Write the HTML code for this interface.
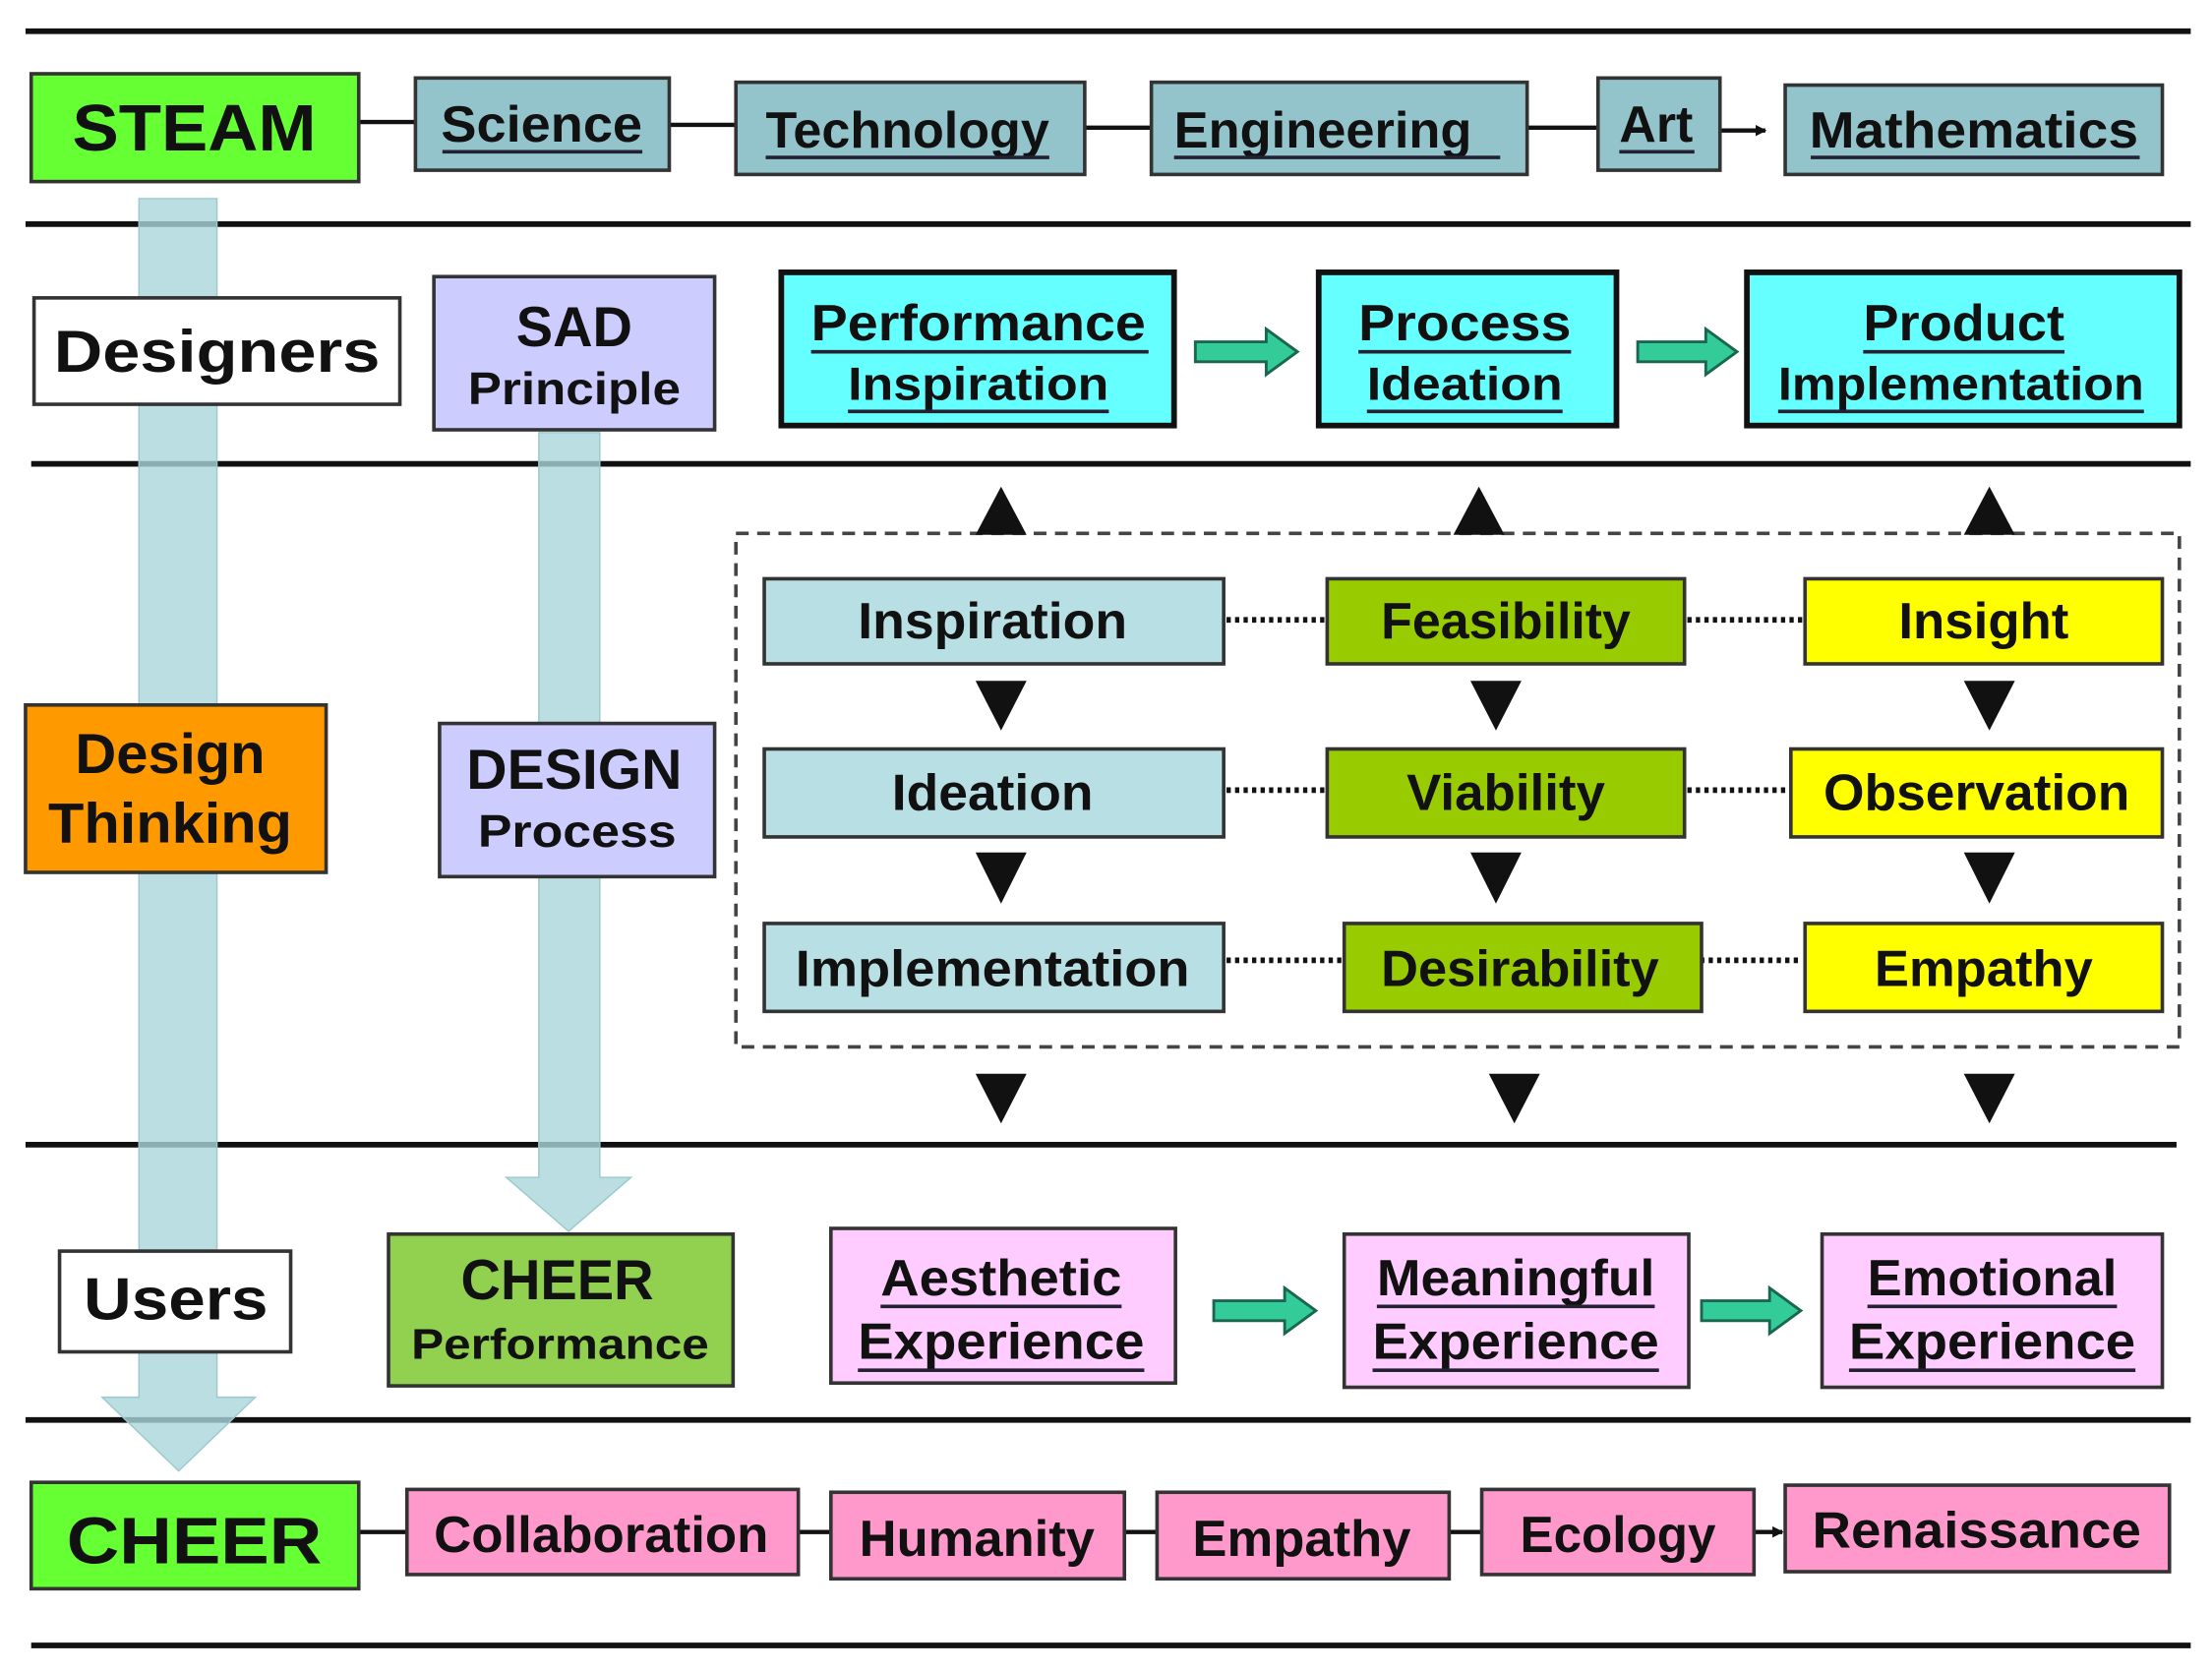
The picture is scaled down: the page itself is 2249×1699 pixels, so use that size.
<!DOCTYPE html>
<html><head><meta charset="utf-8"><style>
html,body{margin:0;padding:0;background:#fff;}
svg{display:block;}
text{font-family:"Liberation Sans",sans-serif;font-weight:bold;fill:#111;text-anchor:middle;}
</style></head><body>
<svg width="2249" height="1699" viewBox="0 0 1560 1178" preserveAspectRatio="none" xmlns="http://www.w3.org/2000/svg">
<defs>
<marker id="ah" markerWidth="8" markerHeight="8" refX="7" refY="4" orient="auto" markerUnits="userSpaceOnUse"><path d="M0,0 L8,4 L0,8 Z" fill="#111"/></marker>
</defs>
<!-- horizontal lines -->
<g stroke="#111" stroke-width="4">
<line x1="18" y1="22" x2="1545" y2="22"/>
<line x1="18" y1="158" x2="1545" y2="158"/>
<line x1="22" y1="327" x2="1545" y2="327"/>
<line x1="18" y1="807" x2="1535" y2="807"/>
<line x1="18" y1="1001" x2="1545" y2="1001"/>
<line x1="22" y1="1160" x2="1545" y2="1160"/>
</g>
<!-- big vertical arrows -->
<g fill="#a9d6da" fill-opacity="0.8" stroke="#9cc9cd" stroke-width="1">
<polygon points="98,140 153,140 153,985 180,985 126,1037 72,985 98,985"/>
<polygon points="380,305 423,305 423,830 445,830 401,868 357,830 380,830"/>
</g>
<!-- row1 connectors -->
<g stroke="#111" stroke-width="3">
<line x1="253" y1="86" x2="293" y2="86"/>
<line x1="472" y1="88" x2="519" y2="88"/>
<line x1="765" y1="90" x2="812" y2="90"/>
<line x1="1077" y1="90" x2="1127" y2="90"/>
<line x1="1213" y1="92" x2="1245" y2="92" marker-end="url(#ah)"/>
<line x1="253" y1="1080" x2="287" y2="1080"/>
<line x1="563" y1="1080" x2="586" y2="1080"/>
<line x1="793" y1="1080" x2="816" y2="1080"/>
<line x1="1022" y1="1080" x2="1045" y2="1080"/>
<line x1="1237" y1="1080" x2="1257" y2="1080" marker-end="url(#ah)"/>
</g>
<!-- row1 boxes -->
<g stroke="#333" stroke-width="2.5">
<rect x="22" y="52" width="231" height="76" fill="#66ff33"/>
<rect x="293" y="55" width="179" height="65" fill="#93c4cc"/>
<rect x="519" y="58" width="246" height="65" fill="#93c4cc"/>
<rect x="812" y="58" width="265" height="65" fill="#93c4cc"/>
<rect x="1127" y="55" width="86" height="65" fill="#93c4cc"/>
<rect x="1259" y="60" width="266" height="63" fill="#93c4cc"/>
</g>
<text x="137" y="106" font-size="46" textLength="172" lengthAdjust="spacingAndGlyphs">STEAM</text>
<text x="382" y="100" font-size="36" textLength="142" lengthAdjust="spacingAndGlyphs">Science</text>
<text x="640" y="104" font-size="36" textLength="200" lengthAdjust="spacingAndGlyphs">Technology</text>
<text x="933" y="104" font-size="36" textLength="210" lengthAdjust="spacingAndGlyphs">Engineering</text>
<text x="1168" y="100" font-size="36" textLength="52" lengthAdjust="spacingAndGlyphs">Art</text>
<text x="1392" y="104" font-size="36" textLength="232" lengthAdjust="spacingAndGlyphs">Mathematics</text>
<g stroke="#223" stroke-width="2.5">
<line x1="312" y1="107" x2="453" y2="107"/>
<line x1="540" y1="111" x2="740" y2="111"/>
<line x1="828" y1="111" x2="1058" y2="111"/>
<line x1="1142" y1="107" x2="1195" y2="107"/>
<line x1="1277" y1="111" x2="1509" y2="111"/>
</g>
<!-- row2 -->
<rect x="24" y="210" width="258" height="75" fill="#fff" stroke="#333" stroke-width="2.5"/>
<rect x="306" y="195" width="198" height="108" fill="#ccccff" stroke="#333" stroke-width="2.5"/>
<g fill="#66ffff" stroke="#111" stroke-width="4">
<rect x="551" y="192" width="277" height="108"/>
<rect x="930" y="192" width="210" height="108"/>
<rect x="1232" y="192" width="305" height="108"/>
</g>
<text x="153" y="262" font-size="42" textLength="230" lengthAdjust="spacingAndGlyphs">Designers</text>
<text x="405" y="244" font-size="40" textLength="82" lengthAdjust="spacingAndGlyphs">SAD</text>
<text x="405" y="285" font-size="32" textLength="150" lengthAdjust="spacingAndGlyphs">Principle</text>
<text x="690" y="240" font-size="36" textLength="236" lengthAdjust="spacingAndGlyphs">Performance</text>
<text x="690" y="282" font-size="33" textLength="184" lengthAdjust="spacingAndGlyphs">Inspiration</text>
<text x="1033" y="240" font-size="36" textLength="150" lengthAdjust="spacingAndGlyphs">Process</text>
<text x="1033" y="282" font-size="33" textLength="138" lengthAdjust="spacingAndGlyphs">Ideation</text>
<text x="1385" y="240" font-size="36" textLength="142" lengthAdjust="spacingAndGlyphs">Product</text>
<text x="1383" y="282" font-size="33" textLength="258" lengthAdjust="spacingAndGlyphs">Implementation</text>
<g stroke="#223" stroke-width="2.5">
<line x1="572" y1="248" x2="810" y2="248"/>
<line x1="598" y1="290" x2="782" y2="290"/>
<line x1="958" y1="248" x2="1108" y2="248"/>
<line x1="964" y1="290" x2="1102" y2="290"/>
<line x1="1314" y1="248" x2="1456" y2="248"/>
<line x1="1254" y1="290" x2="1512" y2="290"/>
</g>
<g fill="#33cc99" stroke="#1a6650" stroke-width="2">
<polygon points="843,241 893,241 893,232 915,248 893,264 893,255 843,255"/>
<polygon points="1155,241 1203,241 1203,232 1225,248 1203,264 1203,255 1155,255"/>
<polygon points="856,917 906,917 906,908 928,924 906,940 906,931 856,931"/>
<polygon points="1200,917 1248,917 1248,908 1270,924 1248,940 1248,931 1200,931"/>
</g>
<!-- row3 -->
<rect x="18" y="497" width="212" height="118" fill="#ff9900" stroke="#333" stroke-width="2.5"/>
<rect x="310" y="510" width="194" height="108" fill="#ccccff" stroke="#333" stroke-width="2.5"/>
<text x="120" y="545" font-size="40" textLength="134" lengthAdjust="spacingAndGlyphs">Design</text>
<text x="120" y="594" font-size="40" textLength="172" lengthAdjust="spacingAndGlyphs">Thinking</text>
<text x="405" y="556" font-size="40" textLength="152" lengthAdjust="spacingAndGlyphs">DESIGN</text>
<text x="407" y="597" font-size="32" textLength="140" lengthAdjust="spacingAndGlyphs">Process</text>
<rect x="519" y="376" width="1018" height="362" fill="none" stroke="#444" stroke-width="2.5" stroke-dasharray="9 6"/>
<g stroke="#111" stroke-width="4" stroke-dasharray="3 3">
<line x1="865" y1="437" x2="936" y2="437"/>
<line x1="1190" y1="437" x2="1271" y2="437"/>
<line x1="865" y1="557" x2="936" y2="557"/>
<line x1="1190" y1="557" x2="1261" y2="557"/>
<line x1="865" y1="677" x2="948" y2="677"/>
<line x1="1175" y1="677" x2="1271" y2="677"/>
</g>
<g stroke="#333" stroke-width="2.5">
<rect x="539" y="408" width="324" height="60" fill="#b8dfe3"/>
<rect x="539" y="528" width="324" height="62" fill="#b8dfe3"/>
<rect x="539" y="651" width="324" height="62" fill="#b8dfe3"/>
<rect x="936" y="408" width="252" height="60" fill="#99cc00"/>
<rect x="936" y="528" width="252" height="62" fill="#99cc00"/>
<rect x="948" y="651" width="252" height="62" fill="#99cc00"/>
<rect x="1273" y="408" width="252" height="60" fill="#ffff00"/>
<rect x="1263" y="528" width="262" height="62" fill="#ffff00"/>
<rect x="1273" y="651" width="252" height="62" fill="#ffff00"/>
</g>
<text x="700" y="450" font-size="36" textLength="190" lengthAdjust="spacingAndGlyphs">Inspiration</text>
<text x="700" y="571" font-size="36" textLength="142" lengthAdjust="spacingAndGlyphs">Ideation</text>
<text x="700" y="695" font-size="36" textLength="278" lengthAdjust="spacingAndGlyphs">Implementation</text>
<text x="1062" y="450" font-size="36" textLength="176" lengthAdjust="spacingAndGlyphs">Feasibility</text>
<text x="1062" y="571" font-size="36" textLength="140" lengthAdjust="spacingAndGlyphs">Viability</text>
<text x="1072" y="695" font-size="36" textLength="196" lengthAdjust="spacingAndGlyphs">Desirability</text>
<text x="1399" y="450" font-size="36" textLength="120" lengthAdjust="spacingAndGlyphs">Insight</text>
<text x="1394" y="571" font-size="36" textLength="216" lengthAdjust="spacingAndGlyphs">Observation</text>
<text x="1399" y="695" font-size="36" textLength="154" lengthAdjust="spacingAndGlyphs">Empathy</text>
<g fill="#111">
<polygon points="706,343 724,377 688,377"/>
<polygon points="1043,343 1061,377 1025,377"/>
<polygon points="1403,343 1421,377 1385,377"/>
<polygon points="688,480 724,480 706,515"/>
<polygon points="1037,480 1073,480 1055,515"/>
<polygon points="1385,480 1421,480 1403,515"/>
<polygon points="688,601 724,601 706,637"/>
<polygon points="1037,601 1073,601 1055,637"/>
<polygon points="1385,601 1421,601 1403,637"/>
<polygon points="688,757 724,757 706,792"/>
<polygon points="1050,757 1086,757 1068,792"/>
<polygon points="1385,757 1421,757 1403,792"/>
</g>
<!-- row4 -->
<g stroke="#333" stroke-width="2.5">
<rect x="42" y="882" width="163" height="71" fill="#fff"/>
<rect x="274" y="870" width="243" height="107" fill="#92d050"/>
<rect x="586" y="866" width="243" height="109" fill="#ffccff"/>
<rect x="948" y="870" width="243" height="108" fill="#ffccff"/>
<rect x="1285" y="870" width="240" height="108" fill="#ffccff"/>
</g>
<text x="124" y="930" font-size="42" textLength="130" lengthAdjust="spacingAndGlyphs">Users</text>
<text x="393" y="916" font-size="40" textLength="136" lengthAdjust="spacingAndGlyphs">CHEER</text>
<text x="395" y="958" font-size="30" textLength="210" lengthAdjust="spacingAndGlyphs">Performance</text>
<text x="706" y="913" font-size="36" textLength="170" lengthAdjust="spacingAndGlyphs">Aesthetic</text>
<text x="706" y="958" font-size="36" textLength="202" lengthAdjust="spacingAndGlyphs">Experience</text>
<text x="1069" y="913" font-size="36" textLength="196" lengthAdjust="spacingAndGlyphs">Meaningful</text>
<text x="1069" y="958" font-size="36" textLength="202" lengthAdjust="spacingAndGlyphs">Experience</text>
<text x="1405" y="913" font-size="36" textLength="176" lengthAdjust="spacingAndGlyphs">Emotional</text>
<text x="1405" y="958" font-size="36" textLength="202" lengthAdjust="spacingAndGlyphs">Experience</text>
<g stroke="#223" stroke-width="2.5">
<line x1="621" y1="921" x2="791" y2="921"/>
<line x1="605" y1="966" x2="807" y2="966"/>
<line x1="971" y1="921" x2="1167" y2="921"/>
<line x1="968" y1="966" x2="1170" y2="966"/>
<line x1="1317" y1="921" x2="1493" y2="921"/>
<line x1="1304" y1="966" x2="1506" y2="966"/>
</g>
<!-- row5 -->
<g stroke="#333" stroke-width="2.5">
<rect x="22" y="1045" width="231" height="75" fill="#66ff33"/>
<rect x="287" y="1050" width="276" height="60" fill="#ff99cc"/>
<rect x="586" y="1052" width="207" height="61" fill="#ff99cc"/>
<rect x="816" y="1052" width="206" height="61" fill="#ff99cc"/>
<rect x="1045" y="1050" width="192" height="60" fill="#ff99cc"/>
<rect x="1259" y="1047" width="271" height="61" fill="#ff99cc"/>
</g>
<text x="137" y="1102" font-size="46" textLength="180" lengthAdjust="spacingAndGlyphs">CHEER</text>
<text x="424" y="1094" font-size="36" textLength="236" lengthAdjust="spacingAndGlyphs">Collaboration</text>
<text x="689" y="1097" font-size="36" textLength="166" lengthAdjust="spacingAndGlyphs">Humanity</text>
<text x="918" y="1097" font-size="36" textLength="154" lengthAdjust="spacingAndGlyphs">Empathy</text>
<text x="1141" y="1094" font-size="36" textLength="138" lengthAdjust="spacingAndGlyphs">Ecology</text>
<text x="1394" y="1091" font-size="36" textLength="232" lengthAdjust="spacingAndGlyphs">Renaissance</text>
</svg>
</body></html>
